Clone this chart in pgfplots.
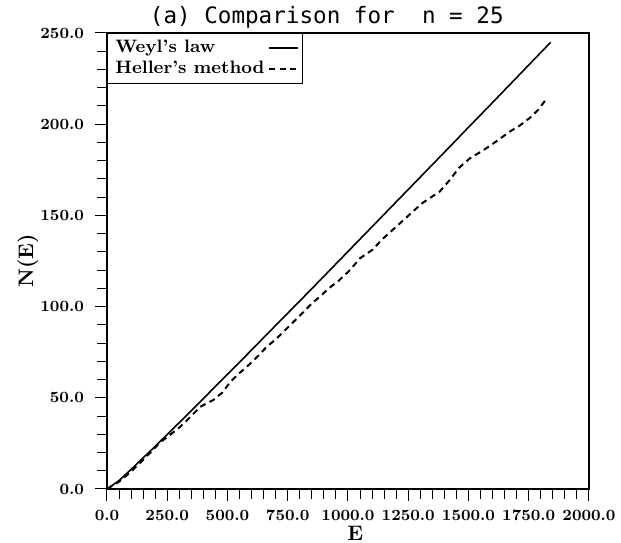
\documentclass[border=0pt]{standalone}
\usepackage{pgfplots}
\pgfplotsset{compat=1.18}
\usepackage{fontspec}
\newfontfamily\titlefont{DejaVu Sans Mono}

% Weyl's law (smooth) and Heller's method (dashed)
\pgfplotstableread{
E N
0 0
50 4.6
100 10.7
200 23.4
300 36.4
400 49.6
500 62.9
600 76.2
700 89.7
800 103.1
900 116.6
1000 130.2
1100 143.8
1200 157.4
1300 171.0
1400 184.6
1500 198.3
1600 211.9
1700 225.6
1800 239.3
1841 244.9
}\weyl

\pgfplotstableread{
E N
0 0
50 4
100 9.5
150 16
180 20
220 25.5
260 29.5
303 34
350 40
386 45
441 48.8
480 53
510 58.5
545 63
580 67
620 72
663 78
700 82
746 88
773 91.5
800 95
856 102.5
884 105.5
920 110
960 114
1008 120
1050 126.5
1100 131
1147 137.5
1216 145.7
1260 151
1306 156.5
1340 159.5
1380 163
1423 169.5
1460 176
1506 181.3
1540 184
1576 187
1620 191
1672 196
1710 199
1755 203.5
1790 208
1824 214
}\heller

\begin{document}
\begin{tikzpicture}
\begin{axis}[
  width=241pt, height=228pt, scale only axis,
  xmin=0, xmax=2000, ymin=0, ymax=250,
  xtick={0,250,...,2000}, ytick={0,50,...,250},
  xticklabels={0.0,250.0,500.0,750.0,1000.0,1250.0,1500.0,1750.0,2000.0},
  yticklabels={0.0,50.0,100.0,150.0,200.0,250.0},
  minor x tick num=4, minor y tick num=4,
  tick align=outside, xtick pos=left, ytick pos=left,
  major tick length=6pt, minor tick length=5pt,
  tick style={black, line width=0.5pt},
  axis line style={line width=0.6pt},
  tick label style={font=\bfseries\fontsize{7.8}{9}\selectfont},
  yticklabel style={xshift=-2pt},
  xticklabel style={yshift=-1pt},
  xlabel={E}, ylabel={N(E)},
  label style={font=\bfseries\fontsize{10.5}{12}\selectfont},
  xlabel style={at={(axis description cs:0.515,-0.097)}, anchor=center},
  ylabel style={at={(axis description cs:-0.164,0.5)}, anchor=center},
  title={(a) Comparison for\ \ n = 25},
  title style={font=\titlefont\fontsize{11.3}{13}\selectfont,
    at={(axis description cs:0.456,1)}, anchor=south, yshift=-7pt},
  legend plot pos=right,
  legend style={at={(0,1)}, anchor=north west, draw=black, line width=0.5pt,
    font=\bfseries\fontsize{9}{10.5}\selectfont, inner xsep=2pt, inner ysep=1.5pt,
    row sep=-1.5pt, cells={anchor=west}},
  legend image code/.code={\draw[#1] (0cm,0cm) -- (0.5cm,0cm);},
]
\addplot[black, line width=0.8pt] table[x=E, y=N] {\weyl};
\addlegendentry{Weyl's law}
\addplot[black, line width=1pt, dash pattern=on 3pt off 2.2pt] table[x=E, y=N] {\heller};
\addlegendentry{Heller's method}
\end{axis}
\pgfresetboundingbox
\path[use as bounding box] ([shift={(-53.5pt,-27pt)}]current axis.south west) rectangle ([shift={(16pt,16.5pt)}]current axis.north east);
\end{tikzpicture}
\end{document}
